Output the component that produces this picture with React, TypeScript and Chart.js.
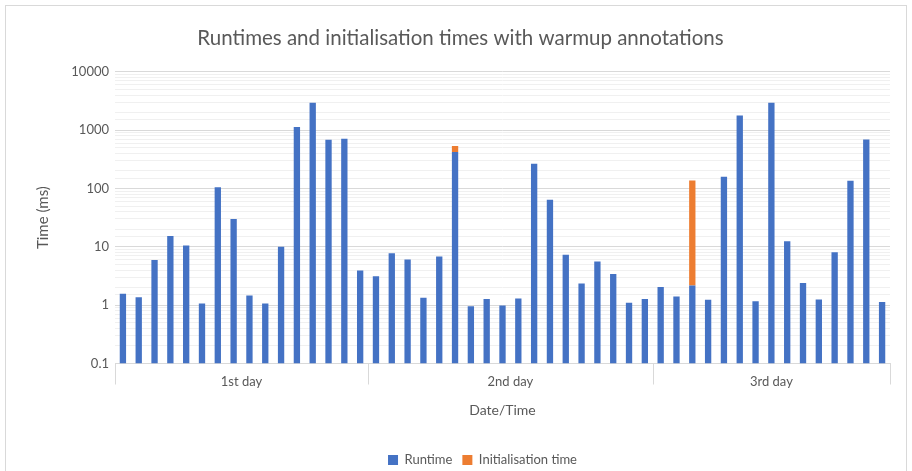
import React, { useEffect, useRef } from 'react';
import { Chart, registerables } from 'chart.js';

Chart.register(...registerables);

const chartTitle = 'Runtimes and initialisation times with warmup annotations';
const dayLabels = ['1st day', '2nd day', '3rd day'];

const runtimeDay1 = [1.57, 1.36, 5.97, 15.3, 10.5, 1.07, 105, 30, 1.47, 1.07, 10, 1127, 2960, 681, 709, 3.91];
const runtimeDay2 = [3.12, 7.78, 6.05, 1.34, 6.81, 423, 0.96, 1.27, 0.99, 1.3, 266, 63.8, 7.28, 2.36, 5.58, 3.42, 1.1, 1.27];
const runtimeDay3 = [2.04, 1.41, 2.18, 1.24, 159, 1790, 1.17, 2960, 12.5, 2.39, 1.25, 8.09, 136, 690, 1.13];

const initDay1 = [null, null, null, null, null, null, null, null, null, null, null, null, null, null, null, null];
const initDay2 = [null, null, null, null, null, 114, null, null, null, null, null, null, null, null, null, null, null, null];
const initDay3 = [null, null, 135, null, null, null, null, null, null, null, null, null, null, null, null];

const yMin = 0.1;
const yMax = 10000;

const runtimeByDay = [runtimeDay1, runtimeDay2, runtimeDay3];
const initByDay = [initDay1, initDay2, initDay3];

const TEXT = '#595959';
const GRID_MAJOR = '#d9d9d9';
const GRID_MINOR = '#f0f0f0';
const FONT = 'Lato';
const LEGEND_SHIFT = 22;

function isDecade(v: number) {
  const l = Math.log10(v);
  return Math.abs(l - Math.round(l)) < 1e-6;
}

export default function App() {
  const canvasRef = useRef<HTMLCanvasElement | null>(null);

  useEffect(() => {
    document.documentElement.style.overflow = 'hidden';
    document.body.style.overflow = 'hidden';
    document.body.style.margin = '0';

    const categories: string[] = [];
    const dayCounts: number[] = [];
    runtimeByDay.forEach((arr, d) => {
      dayCounts.push(arr.length);
      arr.forEach((_, i) => categories.push(dayLabels[d] + ' #' + (i + 1)));
    });
    const runtime = ([] as (number | null)[]).concat(...runtimeByDay);
    const init = ([] as (number | null)[]).concat(...(initByDay as any));

    const legendShiftPlugin = {
      id: 'legendShift',
      afterLayout(chart: any) {
        const lg = chart.legend;
        if (lg) {
          lg.left += LEGEND_SHIFT;
          lg.right += LEGEND_SHIFT;
        }
      },
    };

    const groupPlugin = {
      id: 'groupLabels',
      afterDraw(chart: any) {
        const { ctx, chartArea } = chart;
        const xs = chart.scales.x;
        const n = categories.length;
        const boundary = (idx: number) => {
          if (idx <= 0) return chartArea.left;
          if (idx >= n) return chartArea.right;
          return (xs.getPixelForValue(idx - 1) + xs.getPixelForValue(idx)) / 2;
        };
        ctx.save();
        ctx.strokeStyle = GRID_MAJOR;
        ctx.lineWidth = 1;
        let start = 0;
        const edges: number[] = [0];
        dayCounts.forEach((c) => {
          start += c;
          edges.push(start);
        });
        edges.forEach((e) => {
          const x = Math.round(boundary(e)) + 0.5;
          ctx.beginPath();
          ctx.moveTo(x, chartArea.bottom);
          ctx.lineTo(x, chartArea.bottom + 21);
          ctx.stroke();
        });
        ctx.fillStyle = TEXT;
        ctx.font = '13px ' + FONT;
        ctx.textAlign = 'center';
        ctx.textBaseline = 'middle';
        for (let d = 0; d < dayLabels.length; d++) {
          const x0 = boundary(edges[d]);
          const x1 = boundary(edges[d + 1]);
          ctx.fillText(dayLabels[d], (x0 + x1) / 2, chartArea.bottom + 18);
        }
        ctx.restore();
      },
    };

    const chart = new Chart(canvasRef.current as HTMLCanvasElement, {
      type: 'bar',
      data: {
        labels: categories,
        datasets: [
          {
            label: 'Runtime',
            data: runtime,
            backgroundColor: '#4472C4',
            barPercentage: 0.4,
            categoryPercentage: 1,
          },
          {
            label: 'Initialisation time',
            data: init,
            backgroundColor: '#ED7D31',
            barPercentage: 0.4,
            categoryPercentage: 1,
          },
        ],
      },
      options: {
        responsive: false,
        animation: false,
        layout: { padding: { left: 25, right: 16, top: 0, bottom: 9.5 } },
        font: { family: FONT },
        plugins: {
          title: {
            display: true,
            text: chartTitle,
            color: TEXT,
            font: { family: FONT, size: 20.5, weight: 'normal' },
            padding: { top: 20, bottom: 21.2 },
          },
          legend: {
            position: 'bottom',
            labels: {
              boxWidth: 10,
              boxHeight: 10,
              color: TEXT,
              font: { family: FONT, size: 13 },
              padding: 10,
            },
          },
          tooltip: { enabled: false },
        },
        scales: {
          x: {
            stacked: true,
            grid: { display: false },
            border: { display: true, color: GRID_MAJOR },
            ticks: { display: false },
            title: {
              display: true,
              text: 'Date/Time',
              color: TEXT,
              font: { family: FONT, size: 14 },
              padding: { top: 0, bottom: 25 },
            },
            afterFit: (s: any) => {
              s.height = 80;
            },
          },
          y: {
            type: 'logarithmic',
            stacked: true,
            min: yMin,
            max: yMax,
            border: { display: false },
            grid: {
              drawTicks: false,
              color: (c: any) => (isDecade(c.tick.value) ? GRID_MAJOR : GRID_MINOR),
            },
            ticks: {
              autoSkip: false,
              padding: 6,
              color: TEXT,
              font: { family: FONT, size: 13 },
              callback: (v: any) => (isDecade(Number(v)) ? String(Number(Number(v).toPrecision(1))) : ''),
            },
            title: {
              display: true,
              text: 'Time (ms)',
              color: TEXT,
              font: { family: FONT, size: 15 },
              padding: { top: 3, bottom: 0 },
            },
            afterFit: (s: any) => {
              s.width = 84;
            },
          },
        },
      } as any,
      plugins: [groupPlugin, legendShiftPlugin],
    });

    return () => chart.destroy();
  }, []);

  return (
    <div
      style={{
        position: 'fixed',
        left: 5,
        top: 5,
        width: 902,
        height: 482,
        border: '1px solid #d9d9d9',
        boxSizing: 'border-box',
        background: '#fff',
      }}
    >
      <canvas ref={canvasRef} width={900} height={480} style={{ display: 'block', width: 900, height: 480 }} />
    </div>
  );
}
